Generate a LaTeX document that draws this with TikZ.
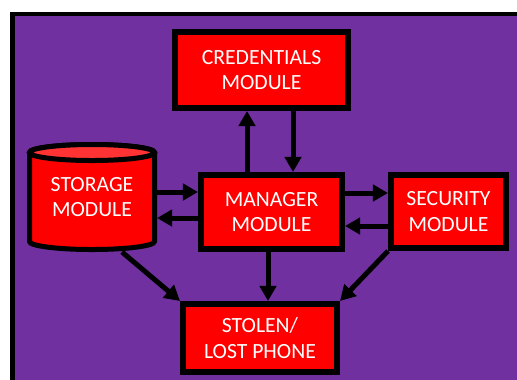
\documentclass[tikz,border=0pt]{standalone}
\usepackage{fontspec}
\setmainfont{Carlito}
\usetikzlibrary{arrows.meta}
\definecolor{PanelPurple}{RGB}{112,48,160}
\definecolor{ModuleRed}{RGB}{255,0,0}
\definecolor{ModuleTop}{RGB}{255,51,51}

\begin{document}
\begin{tikzpicture}[x=0.03cm, y=0.03cm,
    module/.style={draw, line width=0.18cm, fill=ModuleRed, text=white,
        align=center, inner sep=0pt, font=\fontsize{18.5}{22}\selectfont},
    link/.style={-{Triangle[length=13pt,width=14pt]}, line width=0.15cm}]
    \useasboundingbox (0,0) rectangle (517,-379);
    \clip (0,0) rectangle (517,-379);
    % Background panel
    \filldraw[fill=PanelPurple, line width=0.14cm] (12.5,-14) rectangle (540,-400);
    % Storage drum
    \filldraw[fill=ModuleRed, line width=0.15cm] (29.5,-152.5) -- (29.5,-241.5)
        arc[start angle=180, end angle=360, x radius=62.5, y radius=8]
        -- (154.5,-152.5)
        arc[start angle=0, end angle=180, x radius=62.5, y radius=8] -- cycle;
    \filldraw[fill=ModuleTop, line width=0.15cm] (92,-152.5) ellipse[x radius=62.5, y radius=8];
    % Draw nodes
    \node[module, minimum width=5.19cm, minimum height=2.28cm] (cred) at (261.5,-70) {CREDENTIALS\\MODULE};
    \node[module, minimum width=4.23cm, minimum height=2.22cm] (manager) at (271.5,-212) {MANAGER\\MODULE};
    \node[module, minimum width=3.45cm, minimum height=2.19cm] (security) at (448.5,-211.5) {SECURITY\\MODULE};
    \node[module, minimum width=4.62cm, minimum height=2.04cm] (stolen) at (260,-338) {STOLEN/\\LOST PHONE};
    \node[module, draw=none, fill=none, outer sep=0pt, minimum width=3.9cm, minimum height=3.3cm] (storage) at (92,-197) {STORAGE\\MODULE};
    % Draw links between modules
    \draw[link] (manager.north -| 247,0) -- (cred.south -| 247,0);
    \draw[link] (cred.south -| 293,0) -- (manager.north -| 293,0);
    \draw[link] (storage.east |- 0,-192) -- (manager.west |- 0,-192);
    \draw[link] (manager.west |- 0,-218) -- (storage.east |- 0,-218);
    \draw[link] (manager.east |- 0,-193) -- (security.west |- 0,-193);
    \draw[link] (security.west |- 0,-226) -- (manager.east |- 0,-226);
    \draw[link] (storage.south -| 122,0) -- (stolen.north west);
    \draw[link] (manager.south -| 268,0) -- (stolen.north -| 268,0);
    \draw[link] (security.south west) -- (stolen.north east);
\end{tikzpicture}
\end{document}
